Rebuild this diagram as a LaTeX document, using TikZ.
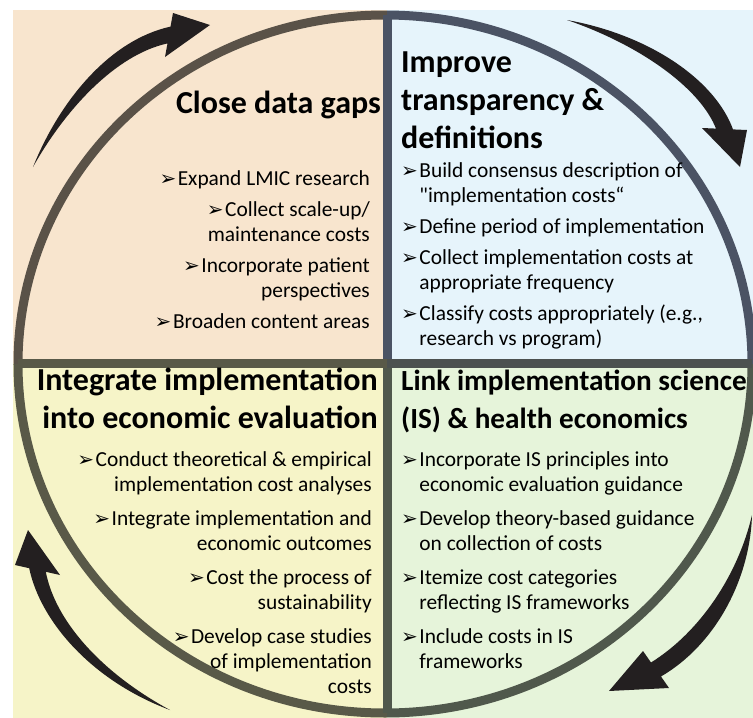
\documentclass[tikz,border=0pt]{standalone}
\usepackage{fontspec}
\setmainfont{Carlito}
\newfontfamily\dejavu{DejaVu Sans}
\definecolor{cTL}{HTML}{F8E5CE}
\definecolor{cTR}{HTML}{E6F4FB}
\definecolor{cBL}{HTML}{F6F4C8}
\definecolor{cBR}{HTML}{E6F4DA}
\definecolor{rTL}{HTML}{5A5248}
\definecolor{rTR}{HTML}{4B5364}
\definecolor{rBL}{HTML}{595948}
\definecolor{rBR}{HTML}{50584C}
\definecolor{rMid}{HTML}{4C5150}
\definecolor{arrowc}{HTML}{231F20}
\newcommand\bul{{\dejavu\fontsize{20}{20}\selectfont ➢}\hspace{1.5pt}}
\newcommand\ind{\phantom{\bul}}
\begin{document}
\begin{tikzpicture}[x=1pt,y=-1pt,
  ring/.style={line width=9pt},
  arrowfill/.style={fill=arrowc},
  item/.style={inner sep=0pt, font=\fontsize{21.4}{25}\selectfont},
  itemR/.style={item, align=right, anchor=base east},
  itemL/.style={item, align=left, anchor=base west},
  head/.style={inner sep=0pt, font=\fontsize{32}{38}\selectfont\bfseries},
  headR/.style={head, align=right, anchor=base east},
  headL/.style={head, align=left, anchor=base west}]
\useasboundingbox (0,0) rectangle (753,718);
% backgrounds
\fill[cTL] (13,10) rectangle (387,363);
\fill[cTR] (387,10) rectangle (753,363);
\fill[cBL] (13,363) rectangle (387,718);
\fill[cBR] (387,363) rectangle (753,718);
% ring
\coordinate (O) at (385,364);
\begin{scope}\clip (0,0) rectangle (387,364);
  \draw[ring,rTL] (O) ellipse[x radius=367pt, y radius=349pt];\end{scope}
\begin{scope}\clip (387,0) rectangle (753,364);
  \draw[ring,rTR] (O) ellipse[x radius=367pt, y radius=349pt];\end{scope}
\begin{scope}\clip (0,364) rectangle (387,718);
  \draw[ring,rBL] (O) ellipse[x radius=367pt, y radius=349pt];\end{scope}
\begin{scope}\clip (387,364) rectangle (753,718);
  \draw[ring,rBR] (O) ellipse[x radius=367pt, y radius=349pt];\end{scope}
\draw[ring,rTR] (387,15) -- (387,363);
\draw[ring,rBR] (387,363) -- (387,713);
\draw[ring,rBL] (18,363) -- (387,363);
\draw[ring,rMid] (387,363) -- (752,363);
% curved arrows
\fill[arrowfill] (33,167) .. controls (60,100) and (110,40) .. (170.5,26.6)
  -- (173,13) -- (210,25) -- (165,57) -- (167.5,43.4)
  .. controls (115,55) and (65,110) .. (33,167) -- cycle;
\fill[arrowfill] (567,20) .. controls (650,35) and (715,80) .. (733,129.4)
  -- (747,130) -- (740,167) -- (702,128) -- (716,128.6)
  .. controls (700,88) and (640,45) .. (567,20) -- cycle;
\fill[arrowfill] (752,515) .. controls (750,580) and (715,645) .. (661,676.5)
  -- (669,688) -- (609,691) -- (643,651) -- (651,662.5)
  .. controls (700,632) and (738,575) .. (752,515) -- cycle;
\fill[arrowfill] (170,710) .. controls (90,680) and (40,620) .. (29.2,568.2)
  -- (15,565) -- (28,530) -- (60,575) -- (45.8,571.8)
  .. controls (55,620) and (100,672) .. (170,710) -- cycle;
% top-left (anchors at the baseline of each node's last line)
\node[headR] (hTL) at (381,113) {Close data gaps};
\node[itemR] (tl1) at (370,185) {\bul Expand LMIC research};
\node[itemR] (tl2) at (370,241) {\bul Collect scale-up/\\maintenance costs};
\node[itemR] (tl3) at (370,297) {\bul Incorporate patient\\perspectives};
\node[itemR] (tl4) at (370,328) {\bul Broaden content areas};
% top-right
\node[headL] (hTR) at (401,148) {Improve\\transparency \&\\definitions};
\node[itemL] (tr1) at (401,202) {\bul Build consensus description of\\\ind \textquotedbl implementation costs“};
\node[itemL] (tr2) at (401,233) {\bul Define period of implementation};
\node[itemL] (tr3) at (401,289) {\bul Collect implementation costs at\\\ind appropriate frequency};
\node[itemL] (tr4) at (401,345) {\bul Classify costs appropriately (e.g.,\\\ind research vs program)};
% bottom-left
\node[headR] (hBL) at (378,428) {Integrate implementation\\into economic evaluation};
\node[itemR] (bl1) at (372,491) {\bul Conduct theoretical \& empirical\\implementation cost analyses};
\node[itemR] (bl2) at (372,550) {\bul Integrate implementation and\\economic outcomes};
\node[itemR] (bl3) at (372,609) {\bul Cost the process of\\sustainability};
\node[itemR] (bl4) at (372,693) {\bul Develop case studies\\of implementation\\costs};
% bottom-right
\node[headL, font=\fontsize{29.2}{38}\selectfont\bfseries] (hBR) at (401,428) {Link implementation science\\(IS) \& health economics};
\node[itemL] (br1) at (401,491) {\bul Incorporate IS principles into\\\ind economic evaluation guidance};
\node[itemL] (br2) at (401,550) {\bul Develop theory-based guidance\\\ind on collection of costs};
\node[itemL] (br3) at (401,609) {\bul Itemize cost categories\\\ind reflecting IS frameworks};
\node[itemL] (br4) at (401,668) {\bul Include costs in IS\\\ind frameworks};
\end{tikzpicture}
\end{document}
